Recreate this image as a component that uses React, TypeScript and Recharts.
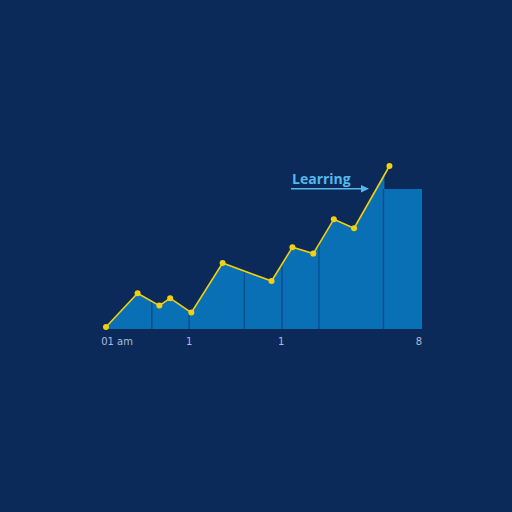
import React from 'react';
import { ComposedChart, Area, Line, XAxis, YAxis, ReferenceLine, ReferenceArea } from 'recharts';

const xs = [0, 10.0, 16.9, 20.3, 27.0, 36.9, 52.4, 59.0, 65.6, 72.1, 78.5, 89.7];
const vs = [1, 17.9, 11.7, 15.4, 8.2, 33, 24, 40.9, 37.7, 54.9, 50.4, 81.5];
const dividerX = [14.5, 26.3, 43.8, 55.7, 67.4, 87.8];
const dividerTop = [13.9, 9.0, 29.1, 32.4, 42.5, 70];
const blockStart = 87.8;
const blockEnd = 100;
const blockValue = 70;
const tickValues = [3.5, 26.3, 55.4, 99];
const tickLabels = ['01 am', '1', '1', '8'];

const data = xs.map((x, i) => ({ x, v: vs[i] }));

const BG = '#0c2a59';
const FILL = '#0a70b5';
const DIV = '#0a4f8e';
const YEL = '#f2d20c';
const TXT = '#55b8ee';

export default function App() {
  return (
    <div style={{ position: 'absolute', left: 0, top: 0, width: 512, height: 512, background: BG, overflow: 'hidden' }}>
      <ComposedChart width={512} height={512} data={data} margin={{ top: 129, right: 90, bottom: 153, left: 106 }}>
        <XAxis
          dataKey="x"
          type="number"
          domain={[0, 100]}
          ticks={tickValues}
          tickFormatter={(v: number) => tickLabels[tickValues.indexOf(v)] ?? ''}
          axisLine={false}
          tickLine={false}
          tickSize={0}
          tickMargin={9}
          height={30}
          interval={0}
          tick={{ fill: '#a9bdd8', fontSize: 10, fontFamily: 'DejaVu Sans' }}
        />
        <YAxis type="number" domain={[0, 100]} hide />
        <ReferenceArea x1={blockStart} x2={blockEnd} y1={0} y2={blockValue} fill={FILL} fillOpacity={1} stroke="none" />
        <Area
          type="linear"
          dataKey="v"
          stroke="none"
          fill={FILL}
          fillOpacity={1}
          baseValue={0}
          dot={false}
          activeDot={false}
          isAnimationActive={false}
        />
        <ReferenceArea x1={blockStart + 0.3} x2={blockEnd} y1={blockValue} y2={100} fill={BG} fillOpacity={1} stroke="none" />
        {dividerX.map((x, i) => (
          <ReferenceLine
            key={i}
            segment={[{ x, y: 0 }, { x, y: dividerTop[i] }]}
            stroke={DIV}
            strokeWidth={1.5}
          />
        ))}
        <Line
          type="linear"
          dataKey="v"
          stroke={YEL}
          strokeWidth={1.6}
          dot={{ r: 3, fill: YEL, stroke: YEL, strokeWidth: 0 }}
          activeDot={false}
          isAnimationActive={false}
        />
      </ComposedChart>
      <svg width={512} height={512} style={{ position: 'absolute', left: 0, top: 0, pointerEvents: 'none' }}>
        <text x={292} y={184} fill={TXT} fontSize={14} fontWeight={700} fontFamily="Open Sans">Learring</text>
        <line x1={291} y1={188.7} x2={363} y2={188.7} stroke={TXT} strokeWidth={1.5} />
        <polygon points="369,188.7 361,185 361,192.4" fill={TXT} />
      </svg>
    </div>
  );
}
